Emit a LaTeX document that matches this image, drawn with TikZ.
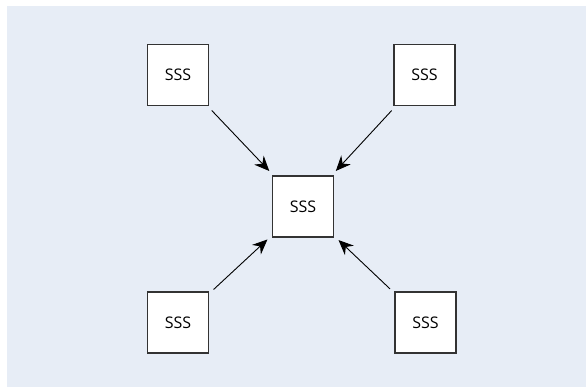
\documentclass[tikz,border=0pt]{standalone}
\usepackage{fontspec}
\setmainfont{Open Sans}
\usetikzlibrary{arrows.meta,positioning}
\definecolor{bgblue}{RGB}{231,237,246}
\definecolor{boxline}{RGB}{51,51,51}

\begin{document}
\begin{tikzpicture}[x=1pt,y=-1pt]
\tikzstyle{every node}+=[inner sep=0pt]
\tikzstyle{sbox}=[draw=boxline,line width=1.3pt,fill=white,minimum size=61pt,font=\fontsize{16}{19}\selectfont]
\tikzstyle{sarrow}=[-{Stealth[length=15pt,width=13pt,inset=5pt]},line width=0.9pt,shorten <=6pt,shorten >=6pt]
\useasboundingbox (0,0) rectangle (586,387);
\fill [bgblue] (7,6) rectangle (586,387);
\node [sbox] (tl) at (178,75) {SSS};
\node [sbox] (tr) at (424.5,75) {SSS};
\node [sbox] (c) at (303,206.5) {SSS};
\node [sbox] (bl) at (178,322.5) {SSS};
\node [sbox] (br) at (425.5,322.5) {SSS};
\draw [sarrow] (tl) -- (c);
\draw [sarrow] (tr) -- (c);
\draw [sarrow] (bl) -- (c);
\draw [sarrow] (br) -- (c);
\end{tikzpicture}
\end{document}
